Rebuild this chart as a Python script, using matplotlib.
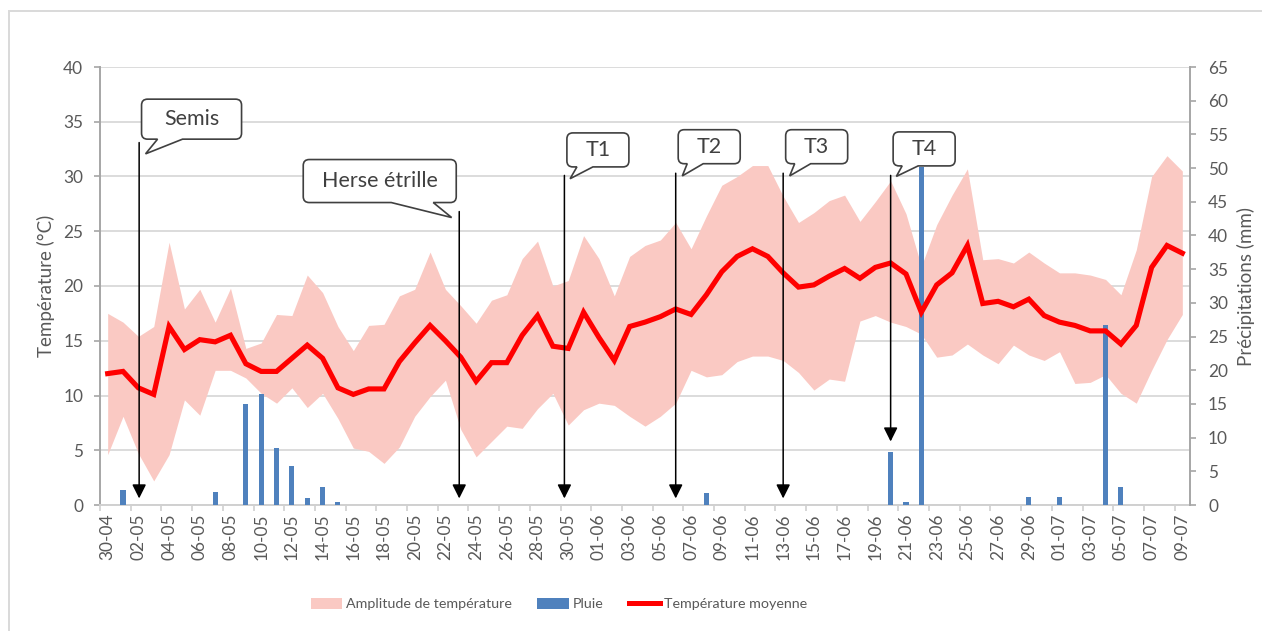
import numpy as np
import pandas as pd
import matplotlib
matplotlib.use("Agg")
import matplotlib.pyplot as plt
from matplotlib.path import Path
from matplotlib.patches import PathPatch, Patch, Rectangle
from matplotlib.lines import Line2D
from matplotlib.transforms import IdentityTransform

plt.rcParams["font.family"] = ["Lato", "DejaVu Sans"]

# daily categories 30-04 .. 09-07
days = pd.date_range("2021-04-30", "2021-07-09", freq="D")
day_labels = [d.strftime("%d-%m") for d in days]

t_mean = [12.0, 12.2, 10.7, 10.1, 16.3, 14.2, 15.1, 14.9, 15.5, 12.9,
          12.2, 12.2, 13.4, 14.6, 13.4, 10.7, 10.1, 10.6, 10.6, 13.1,
          14.8, 16.4, 15.0, 13.5, 11.3, 13.0, 13.0, 15.5, 17.3, 14.5,
          14.3, 17.6, 15.3, 13.2, 16.3, 16.7, 17.2, 17.9, 17.4, 19.2,
          21.3, 22.7, 23.4, 22.7, 21.2, 19.9, 20.1, 20.9, 21.6, 20.7,
          21.7, 22.1, 21.1, 17.6, 20.1, 21.2, 23.7, 18.4, 18.6, 18.1,
          18.8, 17.3, 16.7, 16.4, 15.9, 15.9, 14.7, 16.4, 21.7, 23.7,
          23.0]

t_max = [17.5, 16.7, 15.4, 16.3, 24.0, 17.9, 19.7, 16.7, 19.8, 14.3,
         14.8, 17.4, 17.3, 21.0, 19.4, 16.3, 14.1, 16.4, 16.5, 19.1,
         19.7, 23.1, 19.7, 18.2, 16.6, 18.7, 19.2, 22.5, 24.1, 20.0,
         20.5, 24.6, 22.5, 19.1, 22.7, 23.7, 24.2, 25.8, 23.4, 26.4,
         29.2, 30.0, 31.0, 31.0, 28.2, 25.8, 26.7, 27.8, 28.3, 25.9,
         27.7, 29.6, 26.6, 21.8, 25.6, 28.3, 30.7, 22.4, 22.5, 22.1,
         23.1, 22.1, 21.2, 21.2, 21.0, 20.6, 19.2, 23.3, 30.0, 31.9,
         30.5]

t_min = [4.6, 8.1, 4.7, 2.2, 4.6, 9.6, 8.2, 12.3, 12.3, 11.6,
         10.2, 9.3, 10.7, 8.9, 10.2, 7.9, 5.2, 4.9, 3.8, 5.3,
         8.1, 9.9, 11.4, 6.9, 4.4, 5.8, 7.2, 7.0, 8.8, 10.2,
         7.3, 8.7, 9.3, 9.1, 8.1, 7.2, 8.1, 9.3, 12.3, 11.7,
         11.9, 13.1, 13.6, 13.6, 13.2, 12.1, 10.5, 11.5, 11.3, 16.8,
         17.3, 16.7, 16.3, 15.6, 13.5, 13.7, 14.7, 13.7, 12.9, 14.6,
         13.7, 13.2, 14.0, 11.1, 11.2, 11.9, 10.2, 9.3, 12.3, 15.1,
         17.4]

rain = [0, 2.2, 0, 0, 0, 0, 0, 2.0, 0, 15.0,
        16.4, 8.5, 5.8, 1.0, 2.7, 0.4, 0, 0, 0, 0,
        0, 0, 0, 0, 0, 0, 0, 0, 0, 0,
        0, 0, 0, 0, 0, 0, 0, 0, 0, 1.8,
        0, 0, 0, 0, 0, 0, 0, 0, 0, 0,
        0, 7.9, 0.4, 50.1, 0, 0, 0, 0, 0, 0,
        1.2, 0, 1.2, 0, 0, 26.7, 2.6, 0, 0, 0,
        0]

# field operations (arrows + callouts)
events = ["Semis", "Herse étrille", "T1", "T2", "T3", "T4"]
event_day = [2.05, 22.9, 29.75, 37.0, 44.0, 51.0]
event_top = [33.1, 26.8, 30.1, 30.3, 30.3, 30.1]
event_tip = [0.6, 0.6, 0.6, 0.6, 0.6, 5.8]

# callout layout in pixels relative to arrow top (y measured downward)
box_dx = [2.4, -156.0, 2.5, 2.5, 2.5, 2.5]
box_gap = [3.4, 9.0, 8.5, 9.5, 9.5, 9.5]
box_w = [100, 153, 62, 62, 62, 62]
box_h = [40, 43, 34, 34, 34, 34]
tail_a = [16, 88, 10, 9, 9, 9]
tail_b = [41, 130, 26, 25, 25, 25]
tip_dx = [6.4, -7.6, 5.7, 6.6, 6.5, 5.7]
tip_dy = [11.3, 6.0, 3.3, 2.7, 2.7, 1.0]

x = np.arange(len(days))
W, H = 1262, 631
fig = plt.figure(figsize=(W / 100, H / 100), dpi=100)
ax = fig.add_axes([100 / W, 1 - 505 / H, 1090 / W, 438 / H])
ax2 = ax.twinx()

grey_txt = "#595959"
ax.set_xlim(-0.5, len(days) - 0.5)
ax.set_ylim(0, 40)
ax2.set_ylim(0, 65)
ax.set_yticks(np.arange(0, 41, 5))
ax2.set_yticks(np.arange(0, 66, 5))
ax.yaxis.grid(True, color="#D9D9D9", lw=1.3)
ax.set_axisbelow(True)

# band
ax.fill_between(x, t_min, t_max, color="#FAC9C3", lw=0, zorder=1)
# rain bars
ax2.bar(x, rain, width=0.33, color="#4F81BD", zorder=2)
# mean temperature, drawn on top using the temperature scale
ax2.plot(x, t_mean, color="#FF0000", lw=3.7, solid_joinstyle="miter",
         transform=ax.transData, zorder=3)

for a in (ax, ax2):
    for s in a.spines.values():
        s.set_visible(False)
ax.spines["left"].set_visible(True)
ax.spines["left"].set_color("#A6A6A6")
ax.spines["left"].set_linewidth(1.4)
ax.spines["bottom"].set_visible(True)
ax.spines["bottom"].set_color("#D0D0D0")
ax.spines["bottom"].set_linewidth(1.4)
ax2.spines["right"].set_visible(True)
ax2.spines["right"].set_color("#A6A6A6")
ax2.spines["right"].set_linewidth(1.4)

ax.tick_params(axis="y", colors="#A6A6A6", labelcolor=grey_txt, labelsize=12.4,
               length=4, width=1.2, pad=8)
ax2.tick_params(axis="y", colors="#A6A6A6", labelcolor=grey_txt, labelsize=12.4,
                length=4, width=1.2, pad=9)
ax.set_xticks(x[::2])
ax.set_xticklabels(day_labels[::2], rotation=90)
ax.set_xticks(np.arange(-0.5, len(days), 2), minor=True)
ax.tick_params(axis="x", which="major", length=0, pad=6, labelsize=12.4,
               labelcolor=grey_txt)
ax.tick_params(axis="x", which="minor", length=4, width=1.2, colors="#D0D0D0")

ax.set_ylabel("Température (°C)", fontsize=13.5, color=grey_txt, labelpad=6)
ax2.set_ylabel("Précipitations (mm)", fontsize=13.5, color=grey_txt,
               rotation=90, labelpad=6)

# arrows
for d, top, tip in zip(event_day, event_top, event_tip):
    ax2.annotate("", xy=(d, tip), xytext=(d, top),
                 xycoords=ax.transData, textcoords=ax.transData,
                 arrowprops=dict(arrowstyle="-|>,head_length=0.6,head_width=0.3",
                                 mutation_scale=14, color="black", lw=1.1,
                                 shrinkA=0, shrinkB=0), zorder=5)


def bubble(x0, y0, w, h, ta, tb, tip, r=6):
    verts = [(x0 + r, y0), (x0 + ta, y0), tip, (x0 + tb, y0),
             (x0 + w - r, y0), (x0 + w, y0), (x0 + w, y0 + r),
             (x0 + w, y0 + h - r), (x0 + w, y0 + h), (x0 + w - r, y0 + h),
             (x0 + r, y0 + h), (x0, y0 + h), (x0, y0 + h - r),
             (x0, y0 + r), (x0, y0), (x0 + r, y0), (x0 + r, y0)]
    codes = [Path.MOVETO, Path.LINETO, Path.LINETO, Path.LINETO,
             Path.LINETO, Path.CURVE3, Path.CURVE3,
             Path.LINETO, Path.CURVE3, Path.CURVE3,
             Path.LINETO, Path.CURVE3, Path.CURVE3,
             Path.LINETO, Path.CURVE3, Path.CURVE3, Path.CLOSEPOLY]
    return Path(verts, codes)


for i, label in enumerate(events):
    px, py = ax.transData.transform((event_day[i], event_top[i]))
    x0 = px + box_dx[i]
    y0 = py + box_gap[i]
    tip = (px + tip_dx[i], py - tip_dy[i])
    p = PathPatch(bubble(x0, y0, box_w[i], box_h[i], tail_a[i], tail_b[i], tip),
                  transform=IdentityTransform(), facecolor="white",
                  edgecolor="#404040", lw=1.2, zorder=6)
    fig.add_artist(p)
    fig.text((x0 + box_w[i] / 2) / W, (y0 + box_h[i] / 2) / H, label,
             ha="center", va="center", fontsize=15.5, color="#404040", zorder=7)

handles = [Patch(facecolor="#FAC9C3", edgecolor="none"),
           Patch(facecolor="#4F81BD", edgecolor="none"),
           Line2D([0], [0], color="#FF0000", lw=3.6)]
fig.legend(handles, ["Amplitude de température", "Pluie", "Température moyenne"],
           loc="center", bbox_to_anchor=(559 / W, 1 - 604 / H), ncol=3,
           frameon=False, fontsize=10.3, labelcolor=grey_txt, handlelength=2.2,
           handleheight=0.8, handletextpad=0.25, columnspacing=1.8)

fig.add_artist(Rectangle((9 / W, -0.5), 2, 0.5 + 1 - 11 / H, transform=fig.transFigure,
                         fill=False, edgecolor="#D9D9D9", lw=1.4))

fig.savefig("out.png", dpi=100)
